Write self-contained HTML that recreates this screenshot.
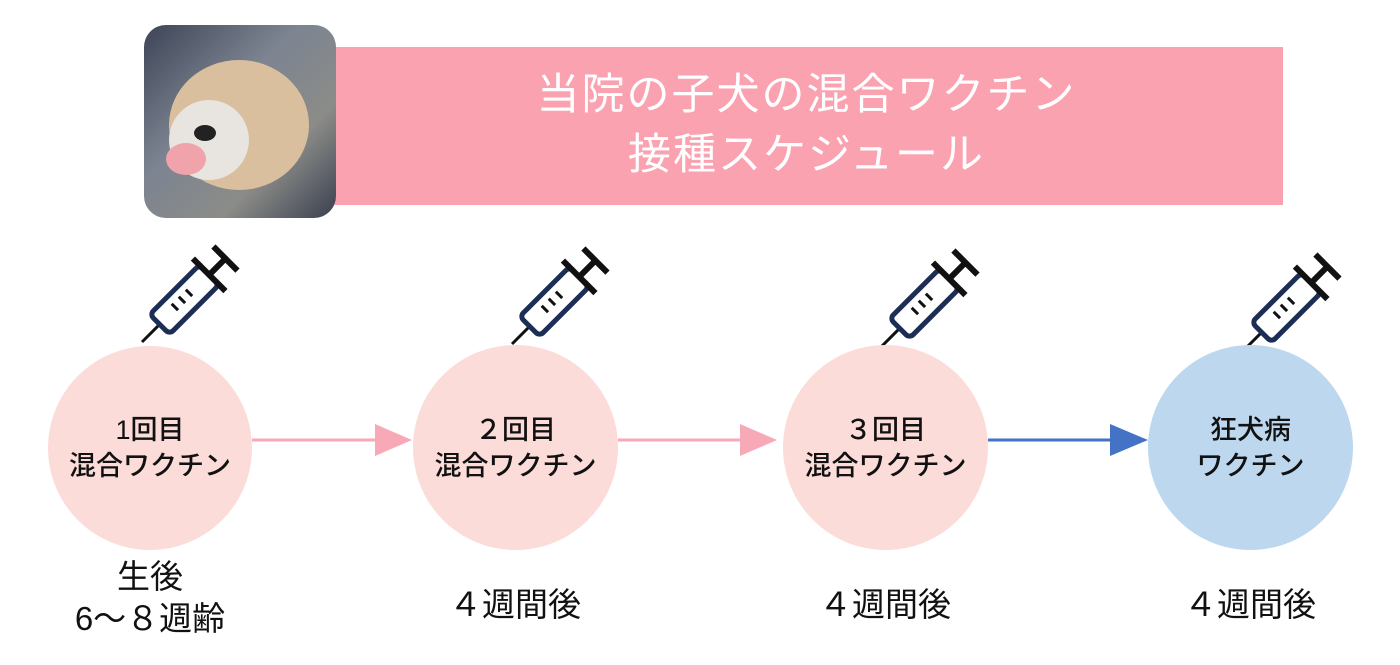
<!DOCTYPE html>
<html><head><meta charset="utf-8"><style>
body{margin:0;width:1400px;height:665px;background:#fff;position:relative;overflow:hidden;font-family:"Liberation Sans","Noto Sans CJK JP",sans-serif}
.abs{position:absolute}
.banner{left:330px;top:47px;width:953px;height:158px;background:#fba2b1;color:#fff;font-size:43px;text-align:center;line-height:60px;box-sizing:border-box;padding-top:18px;letter-spacing:2px}
.photo{left:144px;top:25px;width:192px;height:193px;border-radius:22px;background:linear-gradient(135deg,#3d4456 0%,#7d8491 40%,#8b8c88 70%,#3a4050 100%);overflow:hidden}
.c{border-radius:50%;background:#fbdcd9;text-align:center;font-size:27px;line-height:36px;color:#111;display:flex;align-items:center;justify-content:center;font-weight:500}
.lbl{font-size:33px;text-align:center;color:#111;line-height:42px}
</style></head><body>
<div class="abs banner">当院の子犬の混合ワクチン<br>接種スケジュール</div>
<div class="abs photo">
<div class="abs" style="left:25px;top:35px;width:140px;height:130px;border-radius:50%;background:#d9bf9e"></div>
<div class="abs" style="left:25px;top:75px;width:80px;height:80px;border-radius:50%;background:#e8e4df"></div>
<div class="abs" style="left:50px;top:100px;width:22px;height:16px;border-radius:50%;background:#222"></div>
<div class="abs" style="left:22px;top:118px;width:40px;height:32px;border-radius:50%;background:#f0a3ab"></div>
</div>
<svg class="abs" style="left:0;top:0" width="1400" height="665">
<line x1="252" y1="440" x2="380" y2="440" stroke="#f7a9b7" stroke-width="3"/>
<polygon points="375,424 412,440 375,456" fill="#f7a9b7"/>
<line x1="618" y1="440" x2="745" y2="440" stroke="#f7a9b7" stroke-width="3"/>
<polygon points="740,424 777,440 740,456" fill="#f7a9b7"/>
<line x1="988" y1="440" x2="1115" y2="440" stroke="#4472c4" stroke-width="3"/>
<polygon points="1110,424 1148,440 1110,456" fill="#4472c4"/>
<g id="sy">
<g transform="translate(142,342) rotate(45)">
<line x1="0" y1="0" x2="0" y2="-25" stroke="#111" stroke-width="3"/>
<rect x="-14" y="-95" width="28" height="70" rx="5" fill="none" stroke="#1c2e55" stroke-width="5"/>
<line x1="-6" y1="-48" x2="3" y2="-48" stroke="#111" stroke-width="3"/>
<line x1="-6" y1="-58" x2="3" y2="-58" stroke="#111" stroke-width="3"/>
<line x1="-6" y1="-68" x2="3" y2="-68" stroke="#111" stroke-width="3"/>
<line x1="-23" y1="-95" x2="23" y2="-95" stroke="#111" stroke-width="6"/>
<line x1="0" y1="-95" x2="0" y2="-118" stroke="#111" stroke-width="6"/>
<line x1="-17" y1="-118" x2="17" y2="-118" stroke="#111" stroke-width="6"/>
</g></g>
<use href="#sy" x="370" y="2"/>
<use href="#sy" x="740" y="4"/>
<use href="#sy" x="1102" y="8"/>
</svg>
<div class="abs c" style="left:48px;top:346px;width:204px;height:204px">1回目<br>混合ワクチン</div>
<div class="abs c" style="left:413px;top:345px;width:205px;height:205px">２回目<br>混合ワクチン</div>
<div class="abs c" style="left:783px;top:345px;width:205px;height:205px">３回目<br>混合ワクチン</div>
<div class="abs c" style="left:1148px;top:345px;width:205px;height:205px;background:#bdd7ee">狂犬病<br>ワクチン</div>
<div class="abs lbl" style="left:50px;top:556px;width:200px">生後<br>6～８週齢</div>
<div class="abs lbl" style="left:415px;top:584px;width:200px">４週間後</div>
<div class="abs lbl" style="left:785px;top:584px;width:200px">４週間後</div>
<div class="abs lbl" style="left:1150px;top:584px;width:200px">４週間後</div>
</body></html>
